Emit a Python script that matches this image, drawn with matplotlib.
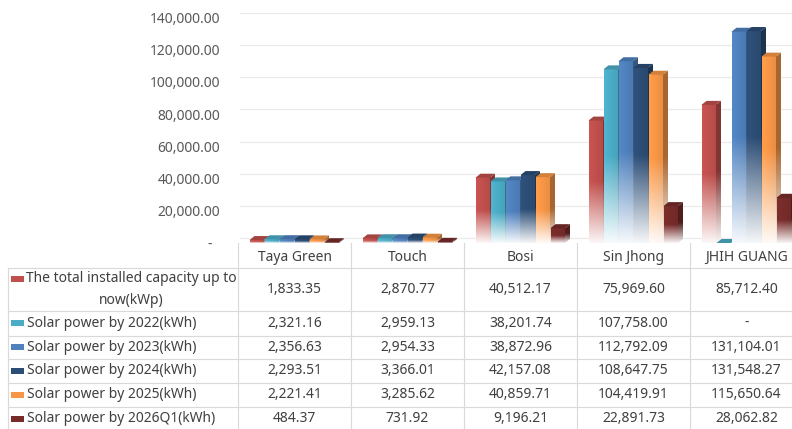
import textwrap
import numpy as np
import matplotlib
matplotlib.use("Agg")
import matplotlib.pyplot as plt
from matplotlib.patches import Polygon, Rectangle
from matplotlib.colors import to_rgb
from matplotlib.ticker import FuncFormatter, FixedLocator
from matplotlib.transforms import ScaledTranslation

plt.rcParams['font.family'] = ['Noto Sans', 'DejaVu Sans']

# ---------------- data ----------------
categories = ["Taya Green", "Touch", "Bosi", "Sin Jhong", "JHIH GUANG"]
series_labels = [
    "The total installed capacity up to now(kWp)",
    "Solar power by 2022(kWh)",
    "Solar power by 2023(kWh)",
    "Solar power by 2024(kWh)",
    "Solar power by 2025(kWh)",
    "Solar power by 2026Q1(kWh)",
]
installed_kwp = [1833.35, 2870.77, 40512.17, 75969.60, 85712.40]
power_2022 = [2321.16, 2959.13, 38201.74, 107758.00, None]
power_2023 = [2356.63, 2954.33, 38872.96, 112792.09, 131104.01]
power_2024 = [2293.51, 3366.01, 42157.08, 108647.75, 131548.27]
power_2025 = [2221.41, 3285.62, 40859.71, 104419.91, 115650.64]
power_2026q1 = [484.37, 731.92, 9196.21, 22891.73, 28062.82]
series_values = [installed_kwp, power_2022, power_2023, power_2024, power_2025, power_2026q1]
series_colors = ["#C0504D", "#4BACC6", "#4F81BD", "#2C4D75", "#F79646", "#772C2A"]
y_ticks = [0, 20000, 40000, 60000, 80000, 100000, 120000, 140000]

# ---------------- layout (pixels) ----------------
W, H, DPI = 792, 429, 100
AX_L, COL_W = 238, 113          # plot / table columns
AX_BASE, AX_TOP = 243, 17.4     # value 0 and top tick (front plane)
PITCH_PX, BAR_PX = 15, 14.5     # bar spacing and front width
DEPTH_DX, DEPTH_DY = 5, 4       # 3-D depth offset
WALL_DY = 4.7                   # gridlines on back wall
ROW_EDGES = [268, 311, 335.5, 359, 383, 407, 431]
LBL_L, LBL_TXT, LBL_R = 8, 27, 235
LINE_PX = 21.4
GRID_C = "#d9d9d9"
TXT_C = "#404040"
FS = 10

fig = plt.figure(figsize=(W / DPI, H / DPI), dpi=DPI)
fig.patch.set_facecolor("white")
n = len(categories)
ax = fig.add_axes([AX_L / W, (H - AX_BASE) / H, n * COL_W / W, (AX_BASE - AX_TOP) / H])
ax.set_facecolor("none")
for sp in ax.spines.values():
    sp.set_visible(False)

ymin, ymax = y_ticks[0], y_ticks[-1]
ux = 1.0 / COL_W                                  # data units per px (x)
uy = (ymax - ymin) / (AX_BASE - AX_TOP)           # data units per px (y)
dxd, dyd = DEPTH_DX * ux, DEPTH_DY * uy
pitch, bw = PITCH_PX * ux, BAR_PX * ux


def front_gradient(rgb, shade_lr=(1.05, 0.94), solid=0.5, floor=0.05, nv=96, nh=12):
    t = np.linspace(0, 1, nv)[:, None, None]
    m = floor + (1 - floor) * np.clip(t / solid, 0, 1)
    sh = np.linspace(shade_lr[0], shade_lr[1], nh)[None, :, None]
    base = np.clip(np.array(rgb)[None, None, :] * sh, 0, 1)
    return (1 - m) * 1.0 + m * base


x = np.arange(n)
ns = len(series_values)
for s, (vals, col) in enumerate(zip(series_values, series_colors)):
    rgb = to_rgb(col)
    z = 2 + s * 0.1
    for i, v in enumerate(vals):
        h = 0.0 if v is None else v
        x0 = x[i] + (s - ns / 2) * pitch
        x1 = x0 + bw
        if h > 0:
            ax.imshow(front_gradient(rgb), extent=[x0, x1, 0, h], origin="lower",
                      aspect="auto", interpolation="bilinear", zorder=z)
            side = Polygon([(x1, 0), (x1, h), (x1 + dxd, h + dyd), (x1 + dxd, dyd)],
                           closed=True, transform=ax.transData)
            im = ax.imshow(front_gradient(tuple(c * 0.68 for c in rgb), shade_lr=(1, 1)),
                           extent=[x1, x1 + dxd, 0, h + dyd], origin="lower",
                           aspect="auto", interpolation="bilinear", zorder=z + 0.01)
            im.set_clip_path(side)
        top = Polygon([(x0, h), (x1, h), (x1 + dxd, h + dyd), (x0 + dxd, h + dyd)],
                      closed=True, facecolor=tuple(c * 0.85 for c in rgb),
                      edgecolor="none", zorder=z + 0.02)
        ax.add_patch(top)

# back-wall gridlines
wall = ax.get_yaxis_transform() + ScaledTranslation(0, WALL_DY / DPI, fig.dpi_scale_trans)
for t in y_ticks:
    ax.plot([0.004, 1], [t, t], transform=wall, color="#ebebeb", lw=0.9,
            zorder=0.5, clip_on=False)

ax.set_xlim(-0.5, n - 0.5)
ax.set_ylim(ymin, ymax)
ax.yaxis.set_major_locator(FixedLocator(y_ticks))
ax.yaxis.set_major_formatter(FuncFormatter(lambda v, p: f"{v:,.2f}" if v else "-  "))
ax.tick_params(axis="y", length=0, pad=18 * 72 / DPI, labelsize=FS, labelcolor="#595959")
ax.tick_params(axis="x", bottom=False, labelbottom=False)

# ---------------- data table ----------------
tax = fig.add_axes([0, 0, 1, 1], zorder=-1)
tax.set_xlim(0, W)
tax.set_ylim(H, 0)
tax.axis("off")
col_edges = [AX_L + k * COL_W for k in range(n + 1)]
lw = 0.8
for yy in ROW_EDGES:
    tax.plot([LBL_L, col_edges[-1]], [yy, yy], color=GRID_C, lw=lw)
tax.plot([LBL_L, LBL_L], [ROW_EDGES[0], ROW_EDGES[-1]], color=GRID_C, lw=lw)
for xe in col_edges:
    tax.plot([xe, xe], [AX_BASE, ROW_EDGES[-1]], color=GRID_C, lw=lw)

hdr_y = (AX_BASE + ROW_EDGES[0]) / 2 + 2
for k, name in enumerate(categories):
    tax.text((col_edges[k] + col_edges[k + 1]) / 2, hdr_y, name, ha="center",
             va="center", fontsize=FS, color=TXT_C)

for r, (lab, vals, col) in enumerate(zip(series_labels, series_values, series_colors)):
    yc = (ROW_EDGES[r] + ROW_EDGES[r + 1]) / 2
    lines = textwrap.wrap(lab, 34)
    nl = len(lines)
    for j, line in enumerate(lines):
        ly = yc + (j - (nl - 1) / 2) * LINE_PX
        if nl > 1:
            tax.text((LBL_TXT + LBL_R) / 2, ly, line, ha="center", va="center",
                     fontsize=FS, color=TXT_C)
        else:
            tax.text(LBL_TXT, ly, line, ha="left", va="center", fontsize=FS, color=TXT_C)
    key_y = yc - (nl - 1) / 2 * LINE_PX
    tax.add_patch(Rectangle((11, key_y - 3), 12.5, 6, facecolor=col, edgecolor="none"))
    for k, v in enumerate(vals):
        s = "-" if v is None else f"{v:,.2f}"
        tax.text((col_edges[k] + col_edges[k + 1]) / 2, yc, s, ha="center",
                 va="center", fontsize=FS, color=TXT_C)

fig.savefig("out.png", dpi=DPI, facecolor="white")
